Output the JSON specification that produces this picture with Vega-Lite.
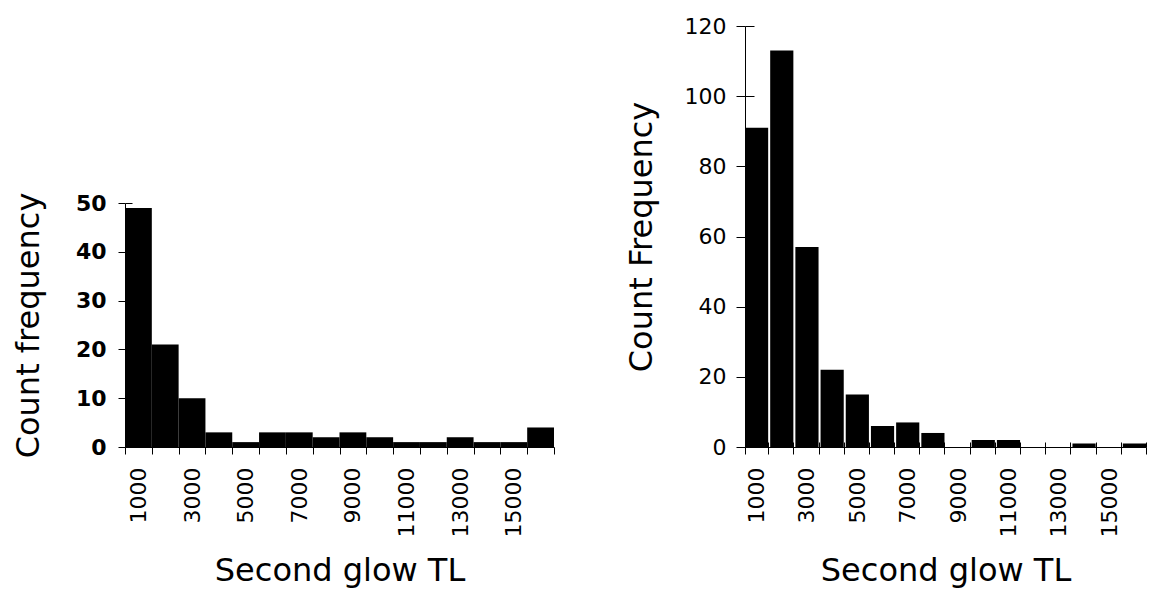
{
  "$schema": "https://vega.github.io/schema/vega-lite/v6.json",
  "padding": {"top": 15, "left": 12, "right": 0, "bottom": 4},
  "background": "white",
  "config": {
    "view": {"stroke": null},
    "font": "DejaVu Sans",
    "axis": {
      "domainColor": "black",
      "tickColor": "black",
      "labelColor": "black",
      "titleColor": "black",
      "domainWidth": 1,
      "tickWidth": 1,
      "grid": false,
      "labelFont": "DejaVu Sans",
      "titleFont": "DejaVu Sans",
      "labelFontSize": 22,
      "titleFontSize": 32,
      "titleFontWeight": "normal"
    }
  },
  "datasets": {
    "left": [
      {"tl": 1000, "count": 49}, {"tl": 2000, "count": 21}, {"tl": 3000, "count": 10}, {"tl": 4000, "count": 3},
      {"tl": 5000, "count": 1}, {"tl": 6000, "count": 3}, {"tl": 7000, "count": 3}, {"tl": 8000, "count": 2},
      {"tl": 9000, "count": 3}, {"tl": 10000, "count": 2}, {"tl": 11000, "count": 1}, {"tl": 12000, "count": 1},
      {"tl": 13000, "count": 2}, {"tl": 14000, "count": 1}, {"tl": 15000, "count": 1}, {"tl": 16000, "count": 4}
    ],
    "right": [
      {"tl": 1000, "count": 91}, {"tl": 2000, "count": 113}, {"tl": 3000, "count": 57}, {"tl": 4000, "count": 22},
      {"tl": 5000, "count": 15}, {"tl": 6000, "count": 6}, {"tl": 7000, "count": 7}, {"tl": 8000, "count": 4},
      {"tl": 9000, "count": 0}, {"tl": 10000, "count": 2}, {"tl": 11000, "count": 2}, {"tl": 12000, "count": 0},
      {"tl": 13000, "count": 0}, {"tl": 14000, "count": 1}, {"tl": 15000, "count": 0}, {"tl": 16000, "count": 1}
    ]
  },
  "spacing": 70,
  "hconcat": [
    {
      "spacing": 0,
      "vconcat": [
        {
          "data": {"values": [{"a": 1}]},
          "width": 429,
          "height": 166,
          "mark": {"type": "point", "opacity": 0},
          "encoding": {}
        },
        {
          "data": {"name": "left"},
          "width": 429,
          "height": 244,
          "resolve": {"axis": {"y": "independent"}},
          "layer": [
            {
              "mark": {"type": "bar", "color": "black"},
              "encoding": {
                "x": {
                  "field": "tl", "type": "ordinal",
                  "scale": {"paddingInner": 0, "paddingOuter": 0},
                  "axis": {
                    "title": "Second glow TL",
                    "labelAngle": -90,
                    "tickSize": 7,
                    "tickBand": "extent",
                    "labelPadding": 13,
                    "titlePadding": 19,
                    "labelExpr": "(datum.value / 1000) % 2 == 1 ? datum.label : ''"
                  }
                },
                "y": {
                  "field": "count", "type": "quantitative",
                  "scale": {"domain": [0, 50], "nice": false},
                  "axis": {
                    "title": "Count frequency",
                    "orient": "left",
                    "values": [0, 10, 20, 30, 40, 50],
                    "tickSize": 7,
                    "labelPadding": 12,
                    "labelFontWeight": "bold",
                    "titlePadding": 30
                  }
                }
              }
            },
            {
              "mark": {"type": "bar", "opacity": 0},
              "encoding": {
                "x": {"field": "tl", "type": "ordinal"},
                "y": {
                  "field": "count", "type": "quantitative",
                  "axis": {
                    "orient": "left",
                    "title": null,
                    "labels": false,
                    "domain": false,
                    "values": [0, 10, 20, 30, 40, 50],
                    "tickSize": -7
                  }
                }
              }
            }
          ]
        }
      ]
    },
    {
      "data": {"name": "right"},
      "width": 401,
      "height": 421,
      "resolve": {"axis": {"x": "independent", "y": "independent"}},
      "layer": [
        {
          "mark": {"type": "bar", "color": "black"},
          "encoding": {
            "x": {
              "field": "tl", "type": "ordinal",
              "scale": {"paddingInner": 0.08, "paddingOuter": 0.0},
              "axis": {
                "title": "Second glow TL",
                "orient": "bottom",
                "labelAngle": -90,
                "tickSize": 7,
                "tickBand": "extent",
                "labelPadding": 13,
                "titlePadding": 19,
                "labelExpr": "(datum.value / 1000) % 2 == 1 ? datum.label : ''"
              }
            },
            "y": {
              "field": "count", "type": "quantitative",
              "scale": {"domain": [0, 120], "nice": false},
              "axis": {
                "title": "Count Frequency",
                "orient": "left",
                "values": [0, 20, 40, 60, 80, 100, 120],
                "tickSize": 9,
                "labelPadding": 10,
                "titlePadding": 26
              }
            }
          }
        },
        {
          "mark": {"type": "bar", "opacity": 0},
          "encoding": {
            "x": {
              "field": "tl", "type": "ordinal",
              "axis": {
                "orient": "bottom",
                "title": null,
                "labels": false,
                "domain": false,
                "tickBand": "extent",
                "tickSize": -5
              }
            },
            "y": {
              "field": "count", "type": "quantitative",
              "axis": {
                "orient": "left",
                "title": null,
                "labels": false,
                "domain": false,
                "values": [0, 20, 40, 60, 80, 100, 120],
                "tickSize": -9
              }
            }
          }
        }
      ]
    }
  ]
}
